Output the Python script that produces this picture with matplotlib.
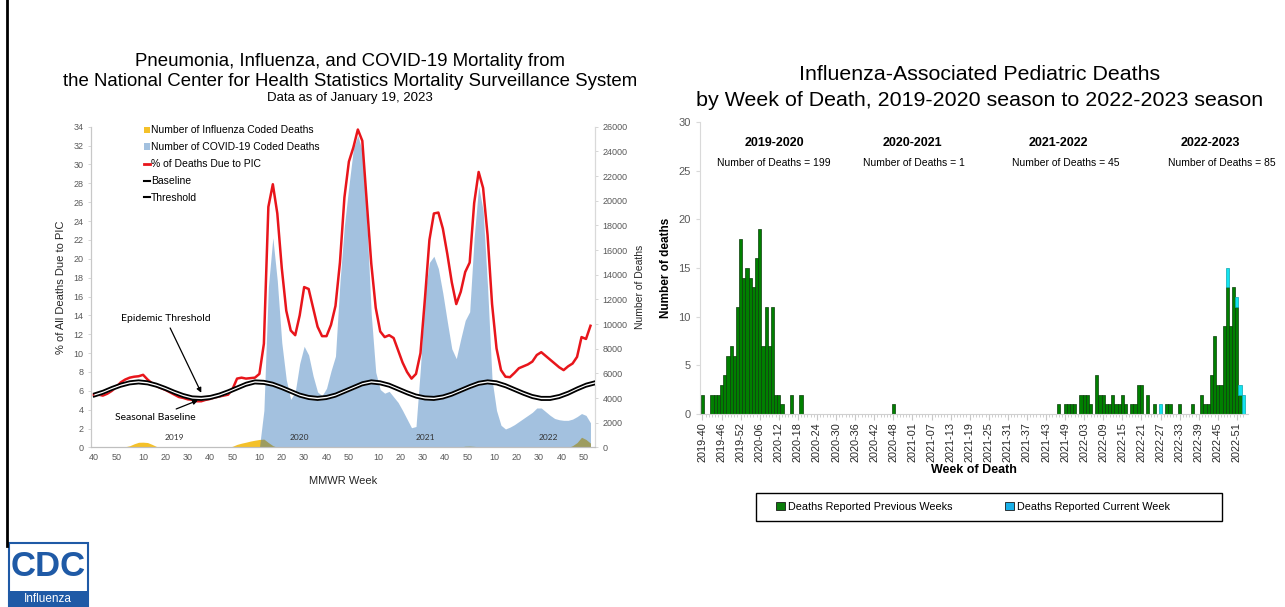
import numpy as np
import matplotlib.pyplot as plt
from matplotlib.patches import Patch, Rectangle
from matplotlib.lines import Line2D

plt.rcParams['font.family'] = ['Liberation Sans', 'DejaVu Sans']

# ---------------- left panel data (MMWR weeks 2018-40 .. 2023-03) ----------------
week_ranges = [(2018, 40, 52), (2019, 1, 52), (2020, 1, 53), (2021, 1, 52), (2022, 1, 52), (2023, 1, 3)]
mmwr = [(y, w) for y, w0, w1 in week_ranges for w in range(w0, w1 + 1)]

# sampled every 2nd week (index 0, 2, 4, ...)
pic_pct = [5.6, 5.6, 5.5, 5.7, 6.0, 6.4, 6.9, 7.2,
           7.4, 7.5, 7.55, 7.7, 7.2, 6.8, 6.5, 6.3,
           6.1, 5.85, 5.6, 5.35, 5.25, 5.1, 5.05, 4.9,
           4.9, 5.05, 5.15, 5.3, 5.4, 5.5, 5.6, 6.2,
           7.3, 7.4, 7.3, 7.35, 7.4, 7.8, 11.0, 25.5,
           27.9, 24.8, 19.0, 14.5, 12.4, 11.9, 14.0, 17.0,
           16.8, 14.8, 12.8, 11.8, 11.8, 13.0, 15.0, 19.6,
           26.5, 30.3, 31.8, 33.7, 32.5, 26.0, 19.5, 14.8,
           12.3, 11.7, 11.9, 11.6, 10.3, 9.0, 8.0, 7.3,
           7.8, 10.0, 15.8, 22.0, 24.8, 24.9, 23.2, 20.5,
           17.5, 15.2, 16.5, 18.6, 19.6, 25.9, 29.2, 27.5,
           22.5, 15.2, 10.5, 8.2, 7.5, 7.45, 7.9, 8.4,
           8.6, 8.8, 9.1, 9.8, 10.1, 9.7, 9.3, 8.9,
           8.5, 8.2, 8.6, 8.9, 9.6, 11.7, 11.5, 12.9]

covid_deaths = [0, 0, 0, 0, 0, 0, 0, 0,
                0, 0, 0, 0, 0, 0, 0, 0,
                0, 0, 0, 0, 0, 0, 0, 0,
                0, 0, 0, 0, 0, 0, 0, 0,
                0, 0, 0, 0, 0, 0, 3000, 13000,
                17000, 13500, 8500, 5500, 3900, 4500, 6800, 8200,
                7500, 5800, 4500, 4200, 4800, 6200, 7400, 13400,
                18000, 21200, 24200, 25300, 24000, 18500, 10800, 6100,
                4700, 4400, 4550, 4100, 3650, 3000, 2300, 1600,
                1700, 6500, 12500, 15000, 15500, 14500, 12500, 10200,
                8000, 7200, 8800, 10300, 11000, 17000, 21200, 19200,
                13000, 5500, 3000, 1800, 1500, 1650, 1850, 2100,
                2350, 2600, 2850, 3200, 3200, 2900, 2600, 2350,
                2250, 2200, 2200, 2300, 2500, 2750, 2600, 2000]

flu_deaths = [0, 0, 0, 0, 0, 0, 0, 60,
              140, 300, 420, 430, 400, 250, 80, 10,
              0, 0, 0, 0, 0, 0, 0, 0,
              0, 0, 0, 0, 0, 0, 0, 100,
              250, 350, 430, 520, 590, 650, 680, 400,
              150, 10, 0, 0, 0, 0, 0, 0,
              0, 0, 0, 0, 0, 0, 0, 0,
              0, 0, 0, 0, 0, 0, 0, 0,
              0, 0, 0, 0, 0, 0, 0, 0,
              0, 0, 0, 0, 0, 0, 0, 0,
              0, 20, 60, 100, 110, 90, 60, 30,
              10, 0, 0, 0, 0, 0, 0, 0,
              0, 0, 0, 0, 0, 0, 0, 0,
              0, 0, 0, 150, 400, 830, 650, 350]

# sampled every 4th week
baseline = [5.38, 5.68, 6.08, 6.43, 6.68, 6.78, 6.68, 6.43, 6.08, 5.68,
            5.33, 5.08, 5.03, 5.13, 5.38, 5.73, 6.13, 6.53, 6.78, 6.73,
            6.53, 6.18, 5.78, 5.38, 5.13, 5.03, 5.13, 5.38, 5.78, 6.18,
            6.58, 6.78, 6.68, 6.43, 6.03, 5.63, 5.28, 5.08, 5.03, 5.18,
            5.48, 5.88, 6.28, 6.63, 6.78, 6.68, 6.38, 5.98, 5.58, 5.23,
            5.03, 5.03, 5.23, 5.58, 6.03, 6.43, 6.68]
threshold = [5.72, 6.02, 6.42, 6.77, 7.02, 7.12, 7.02, 6.77, 6.42, 6.02,
             5.67, 5.42, 5.37, 5.47, 5.72, 6.07, 6.47, 6.87, 7.12, 7.07,
             6.87, 6.52, 6.12, 5.72, 5.47, 5.37, 5.47, 5.72, 6.12, 6.52,
             6.92, 7.12, 7.02, 6.77, 6.37, 5.97, 5.62, 5.42, 5.37, 5.52,
             5.82, 6.22, 6.62, 6.97, 7.12, 7.02, 6.72, 6.32, 5.92, 5.57,
             5.37, 5.37, 5.57, 5.92, 6.37, 6.77, 7.02]

year_labels = ['2019', '2020', '2021', '2022']
year_label_x = [36, 92, 148, 203]

# ---------------- right panel data ----------------
prev_weeks = ['2019-40', '2019-43', '2019-44', '2019-45', '2019-46', '2019-47', '2019-48',
              '2019-49', '2019-50', '2019-51', '2019-52', '2020-01', '2020-02', '2020-03',
              '2020-04', '2020-05', '2020-06', '2020-07', '2020-08', '2020-09', '2020-10',
              '2020-11', '2020-12', '2020-13', '2020-16', '2020-19',
              '2020-48',
              '2021-47', '2021-49', '2021-50', '2021-51', '2021-52', '2022-02', '2022-03',
              '2022-04', '2022-05', '2022-07', '2022-08', '2022-09', '2022-10', '2022-11',
              '2022-12', '2022-13', '2022-14', '2022-15', '2022-16', '2022-18', '2022-19',
              '2022-20', '2022-21', '2022-23', '2022-25', '2022-29', '2022-30', '2022-33',
              '2022-37',
              '2022-40', '2022-41', '2022-42', '2022-43', '2022-44', '2022-45', '2022-46',
              '2022-47', '2022-48', '2022-49', '2022-50', '2022-51', '2022-52']
prev_counts = [2, 2, 2, 2, 3, 4, 6,
               7, 6, 11, 18, 14, 15, 14,
               13, 16, 19, 7, 11, 7, 11,
               2, 2, 1, 2, 2,
               1,
               1, 1, 1, 1, 1, 2, 2,
               2, 1, 4, 2, 2, 1, 1,
               2, 1, 1, 2, 1, 1, 1,
               3, 3, 2, 1, 1, 1, 1,
               1,
               2, 1, 1, 4, 8, 3, 3,
               9, 13, 9, 13, 11, 2]
curr_weeks = ['2022-27', '2022-48', '2022-51', '2022-52', '2023-01']
curr_counts = [1, 2, 1, 1, 2]
seasons = ['2019-2020', '2020-2021', '2021-2022', '2022-2023']

# ---------------- figure ----------------
fig = plt.figure(figsize=(12.85, 6.07), dpi=100)

blue = '#1b66b1'
yellow = '#f4c12a'
red = '#e8151b'
grey = '#595959'

ax_d = fig.add_axes([0.0708, 0.2628, 0.3922, 0.5285])
ax_p = ax_d.twinx()

x2 = np.arange(0, 224, 2)
x4 = np.arange(0, 225, 4)

ax_d.fill_between(x2, flu_deaths, color=yellow, lw=0, zorder=1)
ax_d.fill_between(x2, covid_deaths, color=blue, alpha=0.4, lw=0, zorder=2)
ax_d.set_ylim(0, 26000)
ax_d.set_yticks(np.arange(0, 26001, 2000))
ax_d.yaxis.tick_right()
ax_d.yaxis.set_label_position('right')
ax_d.set_ylabel('Number of Deaths', fontsize=7.5, color='#262626', labelpad=5)

ax_p.plot(x2, pic_pct, color=red, lw=1.8, zorder=3)
ax_p.fill_between(x4, baseline, threshold, color='white', lw=0, zorder=4)
ax_p.plot(x4, baseline, color='black', lw=1.3, zorder=5)
ax_p.plot(x4, threshold, color='black', lw=1.3, zorder=5)
ax_p.set_ylim(0, 34)
ax_p.set_yticks(np.arange(0, 35, 2))
ax_p.yaxis.tick_left()
ax_p.yaxis.set_label_position('left')
ax_p.set_ylabel('% of All Deaths Due to PIC', fontsize=8, color='#262626', labelpad=5)

tick_idx = [i for i, (y, w) in enumerate(mmwr) if w % 10 == 0 and i < 224]
ax_d.set_xticks(tick_idx)
ax_d.set_xticklabels([str(mmwr[i][1]) for i in tick_idx])
ax_d.set_xlim(-1.3, 224)
ax_d.set_xlabel('MMWR Week', fontsize=8, color='#262626', labelpad=10)

for a in (ax_d, ax_p):
    a.spines['top'].set_visible(False)
    a.spines['left'].set_color('#c8c8c8')
    a.spines['right'].set_color('#d9d9d9')
    a.spines['bottom'].set_color('#bfbfbf')
    a.tick_params(axis='y', labelsize=6.5, labelcolor=grey, color='#d0d0d0', length=2, width=0.6)
ax_d.tick_params(axis='x', labelsize=6.5, labelcolor=grey, length=0, pad=4)

for lbl, xp in zip(year_labels, year_label_x):
    ax_p.text(xp, 1.1, lbl, ha='center', va='center', fontsize=6, family=['Lato', 'DejaVu Sans'],
              color='#333333', zorder=6)

arrow = dict(arrowstyle='-|>', color='black', lw=0.9, mutation_scale=7, shrinkA=2, shrinkB=0)
ax_p.annotate('Epidemic Threshold', xy=(48, 5.8), xytext=(32, 13.7), ha='center', va='center',
              fontsize=7.5, family=['Lato', 'DejaVu Sans'], arrowprops=arrow, zorder=7)
ax_p.annotate('Seasonal Baseline', xy=(46.5, 5.0), xytext=(27.5, 3.2), ha='center', va='center',
              fontsize=7.5, family=['Lato', 'DejaVu Sans'], arrowprops=arrow, zorder=7)

left_handles = [Patch(facecolor=yellow, label='Number of Influenza Coded Deaths'),
                Patch(facecolor=blue, alpha=0.4, label='Number of COVID-19 Coded Deaths'),
                Line2D([], [], color=red, lw=2, label='% of Deaths Due to PIC'),
                Line2D([], [], color='black', lw=1.5, label='Baseline'),
                Line2D([], [], color='black', lw=1.5, label='Threshold')]
ax_p.legend(handles=left_handles, loc='upper left', bbox_to_anchor=(0.105, 1.004), frameon=False,
            fontsize=7.5, handlelength=0.55, handleheight=0.55, handletextpad=0.1,
            labelspacing=0.66, borderaxespad=0, borderpad=0)

fig.text(350 / 1285, 1 - 62 / 607, 'Pneumonia, Influenza, and COVID-19 Mortality from',
         ha='center', va='center', fontsize=13.4)
fig.text(350 / 1285, 1 - 81 / 607, 'the National Center for Health Statistics Mortality Surveillance System',
         ha='center', va='center', fontsize=13.4)
fig.text(350 / 1285, 1 - 98 / 607, 'Data as of January 19, 2023', ha='center', va='center', fontsize=9.5)

# ---------------- right panel ----------------
rweeks = [f'{y}-{w:02d}' for y, w0, w1 in [(2019, 40, 52), (2020, 1, 53), (2021, 1, 52), (2022, 1, 52), (2023, 1, 1)]
          for w in range(w0, w1 + 1)]
pos = {lbl: k for k, lbl in enumerate(rweeks)}
prev = np.zeros(len(rweeks))
curr = np.zeros(len(rweeks))
for wk, c in zip(prev_weeks, prev_counts):
    prev[pos[wk]] = c
for wk, c in zip(curr_weeks, curr_counts):
    curr[pos[wk]] = c
k = np.arange(len(rweeks))

def season_of(lbl):
    y, w = int(lbl[:4]), int(lbl[5:])
    return f'{y}-{y + 1}' if w >= 40 else f'{y - 1}-{y}'

totals = {s: 0 for s in seasons}
for lbl, p, c in zip(rweeks, prev, curr):
    totals[season_of(lbl)] += int(p + c)

ax2 = fig.add_axes([0.5447, 0.3180, 0.4265, 0.4811])
m = prev > 0
ax2.bar(k[m], prev[m], width=1, color='#008000', edgecolor='#0b3d0b', linewidth=0.5, zorder=2)
mc = curr > 0
ax2.bar(k[mc], curr[mc], bottom=prev[mc], width=1, color='#12e4ef', edgecolor='#0aa6b0', linewidth=0.5, zorder=2)

ax2.set_xlim(-0.8, 171.5)
ax2.set_ylim(0, 30)
ax2.set_yticks(np.arange(0, 31, 5))
ax2.set_xticks(k[::6])
ax2.set_xticklabels(rweeks[::6], rotation=90, fontsize=7.8, color='#262626')
ax2.set_xticks(k, minor=True)
ax2.tick_params(axis='x', which='major', length=4, color='#c8c8c8', pad=2)
ax2.tick_params(axis='x', which='minor', length=2, color='#c8c8c8')
ax2.tick_params(axis='y', labelsize=8, labelcolor=grey, length=3, color='#d9d9d9')
for s in ('top', 'right'):
    ax2.spines[s].set_visible(False)
ax2.spines['left'].set_color('#d9d9d9')
ax2.spines['bottom'].set_color('#d0d0d0')
ax2.set_ylabel('Number of deaths', fontsize=8.5, fontweight='bold', labelpad=5)
ax2.set_xlabel('Week of Death', fontsize=9, fontweight='bold', labelpad=1)

title_x = [22.5, 66, 112, 159.6]
count_x = [22.5, 66.5, 114.3, 163.4]
for s, tx, cx in zip(seasons, title_x, count_x):
    ax2.text(tx, 27.85, s, ha='center', va='center', fontsize=9, fontweight='bold')
    ax2.text(cx, 25.8, f'Number of Deaths = {totals[s]}', ha='center', va='center', fontsize=7.5)

fig.text(980 / 1285, 1 - 75 / 607, 'Influenza-Associated Pediatric Deaths', ha='center', va='center', fontsize=15.4)
fig.text(980 / 1285, 1 - 101 / 607, 'by Week of Death, 2019-2020 season to 2022-2023 season',
         ha='center', va='center', fontsize=15.4)

# bottom legend: entries placed from the left, frame drawn as a box of its own
fig.legend(handles=[Patch(facecolor='#0a7d0a', edgecolor='#1a1a1a', lw=0.6),
                    Patch(facecolor='#1ab0e8', edgecolor='#1a1a1a', lw=0.6)],
           labels=['Deaths Reported Previous Weeks', 'Deaths Reported Current Week'],
           ncol=2, loc='center left', bbox_to_anchor=(776 / 1285, 1 - 507 / 607),
           fontsize=7.8, frameon=False, handlelength=0.8, handleheight=0.8,
           handletextpad=0.35, columnspacing=4.8, borderpad=0, borderaxespad=0)
fig.add_artist(Rectangle((756 / 1285, 1 - 521 / 607), 466 / 1285, 28 / 607,
                         facecolor='none', edgecolor='black', lw=1.0))

# ---------------- page decorations: left rule and CDC badge ----------------
fig.add_artist(Line2D([7 / 1285, 7 / 1285], [1 - 546 / 607, 1], color='black', lw=2))
fig.add_artist(Rectangle((9 / 1285, 0), 79 / 1285, 64 / 607, facecolor='white',
                         edgecolor='#1f5aa6', lw=1.5))
fig.add_artist(Rectangle((9 / 1285, 0), 79 / 1285, 16 / 607, facecolor='#1f5aa6', lw=0))
fig.text(48 / 1285, 1 - 566 / 607, 'CDC', ha='center', va='center', fontsize=25,
         fontweight='bold', color='#1f5aa6')
fig.text(48 / 1285, 1 - 599 / 607, 'Influenza', ha='center', va='center', fontsize=8.5, color='white')

fig.savefig('out.png', dpi=100)
